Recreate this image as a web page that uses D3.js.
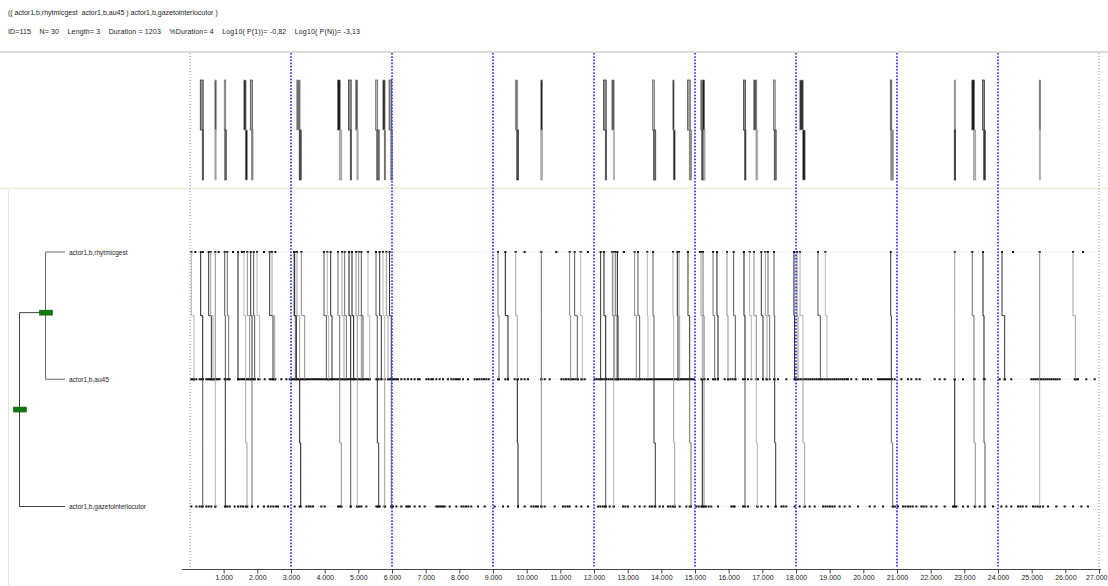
<!DOCTYPE html>
<html>
<head>
<meta charset="utf-8">
<script src="https://cdn.jsdelivr.net/npm/d3@7/dist/d3.min.js"></script>
<style>
  html, body { margin: 0; padding: 0; background: #fff; }
  svg { display: block; }
  text { font-family: "Liberation Sans", "DejaVu Sans", sans-serif; white-space: pre; }
</style>
</head>
<body>
<svg id="chart" width="1108" height="586"></svg>
<script>
// ---- pattern description ----
const patternTitle = "(( actor1,b,rhytmicgest  actor1,b,au45 ) actor1,b,gazetointerlocutor )";
const patternStats = "ID=115    N= 30    Length= 3    Duration = 1203    %Duration= 4    Log10( P(1))= -0,82    Log10( P(N))= -3,13";
const eventTypes = ["actor1,b,rhytmicgest", "actor1,b,au45", "actor1,b,gazetointerlocutor"];

// ---- complete occurrences: time of each of the three events ----
const occRhy  = [318, 751, 1031, 1604, 1803, 3178, 4396, 4723, 4931, 5525, 5733, 5926, 9674, 10435, 12297, 12544, 13753, 14346, 14792, 15178, 15238, 16455, 16752, 17347, 18118, 20813, 22714, 23236, 23554, 25238];
const occAu45 = [377, 751, 1049, 1654, 1842, 3258, 4447, 4773, 4969, 5563, 5783, 5979, 9722, 10435, 12348, 12585, 13782, 14367, 14843, 15217, 15268, 16485, 16821, 17367, 18207, 20831, 22714, 23287, 23584, 25238];
const occGaze = [377, 751, 1049, 1693, 1842, 3288, 4494, 4773, 4969, 5605, 5783, 5979, 9743, 10435, 12348, 12585, 13821, 14397, 14881, 15217, 15268, 16485, 16851, 17397, 18258, 20872, 22714, 23326, 23614, 25238];

// ---- further occurrences of the sub-pattern (rhytmicgest, au45) ----
const subRhy  = [40, 555, 614, 1109, 1426, 1703, 1891, 1990, 2366, 2436, 3089, 3109, 3307, 3980, 4079, 4178, 4515, 4594, 4812, 5010, 5089, 5287, 5634, 5832, 9148, 9366, 11277, 11425, 11603, 12197, 12564, 12633, 12693, 13207, 13306, 13583, 14475, 14525, 15535, 15653, 15950, 16148, 16624, 16970, 17089, 17168, 17940, 18029, 18653, 18871, 24119, 26228];
const subAu45 = [119, 634, 683, 1149, 1426, 1772, 1921, 2069, 2465, 2515, 3129, 3158, 3406, 4050, 4119, 4218, 4574, 4644, 4862, 5089, 5139, 5337, 5683, 5881, 9178, 9445, 11306, 11504, 11653, 12197, 12613, 12683, 12712, 13257, 13356, 13603, 14495, 14545, 15584, 15683, 15980, 16198, 16673, 17020, 17139, 17218, 17960, 18059, 18723, 18921, 24198, 26297];

// ---- single events of each type that are not part of a drawn link ----
const rhyOther = [159, 386, 852, 1277, 1545, 2198, 2535, 9940, 10881, 11821, 12890, 15150, 24446, 26525];
const au45Events = [40, 90, 119, 188, 287, 337, 386, 485, 535, 584, 634, 683, 733, 782, 832, 881, 1030, 1109, 1178, 1426, 1475, 1525, 1574, 1624, 1673, 1723, 1772, 1822, 1871, 1921, 2020, 2218, 2366, 2416, 2465, 2535, 2713, 2862, 2961,
  3030, 3089, 3149, 3208, 3268, 3327, 3387, 3446, 3505, 3565, 3624, 3683, 3743, 3802, 3861, 3921, 3980, 4040, 4099, 4158, 4218, 4277, 4337, 4396, 4456, 4515, 4574, 4634, 4693, 4753, 4812, 4871, 4931, 4990, 5050, 5109, 5168, 5228, 5287, 5337,
  5535, 5604, 5683, 5881, 5941, 6000, 6059, 6119, 6178, 6277, 6376, 6475, 6574, 6673, 6772,
  6822, 7020, 7089, 7168, 7218, 7317, 7416, 7515, 7663, 7762, 7831, 7901, 7960, 8010, 8109, 8257, 8455, 8524, 8594, 8663, 8732, 8802, 8871, 9148, 9366, 9445, 9643, 9742, 9841, 9940, 10039, 10435, 10534, 10683,
  11029, 11098, 11168, 11237, 11306, 11376, 11445, 11524, 11623, 11722, 12019, 12078, 12138, 12197, 12256, 12316, 12375, 12435, 12494, 12554, 12613, 12672, 12732, 12791, 12851, 12910, 12969, 13029, 13088, 13148, 13207, 13266, 13326, 13385, 13445, 13504, 13563,
  13604, 13663, 13723, 13782, 13842, 13901, 13960, 14020, 14079, 14139, 14198, 14257, 14317, 14376, 14436, 14495, 14554, 14614, 14673, 14733, 14792, 14851, 14911, 14970, 15188, 15287, 15386, 15535, 15604, 15683, 15881, 15980, 16049, 16119, 16198, 16426, 16574, 16871, 17020, 17119, 17346, 17465, 17713,
  17960, 18019, 18079, 18138, 18198, 18257, 18316, 18376, 18435, 18495, 18554, 18613, 18673, 18732, 18792, 18851, 18911, 18970, 19029, 19089, 19148, 19207, 19267, 19326, 19386, 19445, 19505, 19544, 19643, 19792, 19990, 20059, 20138, 20237,
  20436, 20495, 20555, 20614, 20674, 20733, 20792, 20852, 20931, 21129, 21327, 21426, 21575, 21674, 22119, 22268, 22416, 22713, 22961, 23307, 23604, 24050, 24198, 24396,
  24990, 25049, 25109, 25168, 25228, 25287, 25346, 25406, 25465, 25525, 25584, 25644, 25703, 25763, 25832, 26277, 26327, 26376, 26624, 26871];
const gazeEvents = [40, 188, 287, 357, 485, 555, 634, 753, 1050, 1109, 1178, 1327, 1426, 1505, 1574, 1654, 1703, 1842, 2020, 2198, 2317, 2396, 2475, 2555, 2614, 2812, 2911,
  3109, 3258, 3456, 3525, 3584, 3654, 3901, 4000, 4396, 4446, 4495, 4772, 4970, 5030, 5089, 5238, 5535, 5584, 5634, 5782, 5980, 6030, 6129, 6277, 6426, 6475, 6525, 6673,
  6822, 6970, 7317, 7366, 7416, 7465, 7515, 7564, 7713, 7911, 8059, 8128, 8198, 8267, 8356, 8554, 8752, 9049, 9297, 9445, 9742, 9940, 10138, 10207, 10277, 10336, 10435, 10534, 10831, 11079, 11148, 11218, 11277, 11475, 11623, 11821, 12118, 12187, 12257, 12316, 12346, 12465, 12583, 12861, 12930, 13009, 13207, 13356, 13504,
  13654, 13723, 13802, 13951, 14050, 14198, 14267, 14337, 14396, 14545, 14743, 14842, 15040, 15109, 15188, 15257, 15327, 15406, 15485, 15683, 16079, 16138, 16178, 16426, 16574, 16851, 16970, 17168, 17396, 17564, 17633, 17713, 17960, 18109, 18257, 18406, 18554, 18802, 18871, 18940, 19010, 19079, 19148, 19297, 19445, 19594, 19841, 20188, 20336,
  20585, 20882, 20951, 21030, 21179, 21248, 21327, 21396, 21466, 21575, 21723, 21792, 21871, 22020, 22169, 22416, 22664, 22713, 22763, 22961, 23109, 23307, 23456, 23604, 23852, 24099, 24248, 24396, 24594, 24663, 24733, 24842, 25040, 25109, 25178, 25248, 25337, 25485, 25733, 25980, 26228, 26475, 26673];

// ---- time axis ----
const timeDomain = [0, 27000];
const tickTimes = [1000, 2000, 3000, 4000, 5000, 6000, 7000, 8000, 9000, 10000, 11000, 12000, 13000, 14000, 15000, 16000, 17000, 18000, 19000, 20000, 21000, 22000, 23000, 24000, 25000, 26000, 27000];
const gridTimes = [0, 3000, 6000, 9000, 12000, 15000, 18000, 21000, 24000, 27000];

// ---- drawing ----
const svg = d3.select("#chart");
const W = 1108, H = 586;
const x = d3.scaleLinear().domain(timeDomain).range([190, 1099]);
const rowY = d3.scalePoint().domain(eventTypes).range([252, 506.5]);
const midY = (a, b) => (rowY(a) + rowY(b)) / 2;
const shades = ["#1a1a1a", "#8c8c8c", "#555555", "#b3b3b3", "#333333", "#a0a0a0", "#6e6e6e"];

// header
svg.append("text").attr("x", 8).attr("y", 15).attr("font-size", 7).attr("fill", "#222").text(patternTitle);
svg.append("text").attr("x", 8).attr("y", 34).attr("font-size", 7).attr("fill", "#222")
  .attr("textLength", 352).attr("lengthAdjust", "spacing").text(patternStats);

// panel frame lines
svg.append("line").attr("x1", 0).attr("x2", W).attr("y1", 52).attr("y2", 52).attr("stroke", "#cfcfcf").attr("stroke-width", 1.5);
svg.append("line").attr("x1", 0).attr("x2", W).attr("y1", 188.5).attr("y2", 188.5).attr("stroke", "#f3ece2").attr("stroke-width", 2);
svg.append("line").attr("x1", 8.5).attr("x2", 8.5).attr("y1", 190).attr("y2", H).attr("stroke", "#e6e6e6").attr("stroke-width", 1);

// row guide lines
const rows = svg.append("g");
rows.selectAll("line").data(eventTypes).join("line")
  .attr("x1", x(0)).attr("x2", x(27000))
  .attr("y1", d => rowY(d)).attr("y2", d => rowY(d))
  .attr("stroke", "#c8c8c8").attr("stroke-width", 1).attr("stroke-dasharray", "1,3");

// event dots
const rhyEvents = occRhy.concat(subRhy, rhyOther);
const au45All = au45Events.concat(occAu45, subAu45);
const gazeAll = gazeEvents.concat(occGaze);
const dotSets = [[eventTypes[0], rhyEvents], [eventTypes[1], au45All], [eventTypes[2], gazeAll]];
const dots = svg.append("g");
dotSets.forEach(([type, times]) => {
  dots.append("g").selectAll("rect").data(times).join("rect")
    .attr("x", d => x(d) - 1).attr("y", rowY(type) - 1)
    .attr("width", 2).attr("height", 2).attr("fill", "#111");
});

// links of the sub-pattern (rhytmicgest -> au45)
const subLinks = subRhy.map((r, i) => ({ r, a: subAu45[i] }));
const occ = occRhy.map((r, i) => ({ r, a: occAu45[i], g: occGaze[i] }));
const yR = rowY(eventTypes[0]), yA = rowY(eventTypes[1]), yG = rowY(eventTypes[2]);
const yStep1 = midY(eventTypes[0], eventTypes[1]);
const yStep2 = midY(eventTypes[1], eventTypes[2]);

const links = svg.append("g").attr("fill", "none");
links.selectAll("path.sub").data(subLinks).join("path").attr("class", "sub")
  .attr("d", d => `M${x(d.r)},${yR}V${yStep1}H${x(d.a)}V${yA}`)
  .attr("stroke", (d, i) => shades[(i + 3) % shades.length]).attr("stroke-width", 1);
links.selectAll("path.up").data(occ).join("path").attr("class", "up")
  .attr("d", d => `M${x(d.r)},${yR}V${yStep1}H${x(d.a)}V${yA}`)
  .attr("stroke", (d, i) => shades[i % shades.length]).attr("stroke-width", 1);
links.selectAll("path.down").data(occ).join("path").attr("class", "down")
  .attr("d", d => `M${x(d.a)},${yA}V${yStep2}H${x(d.g)}V${yG}`)
  .attr("stroke", (d, i) => shades[(i + 2) % shades.length]).attr("stroke-width", 1);

// occurrence overview bars in the top panel
const bars = svg.append("g");
occ.forEach((d, i) => {
  const x0 = Math.min(x(d.r), x(d.a)) - 0.5, x1 = Math.max(x(d.r), x(d.a)) + 0.5;
  const x2 = Math.min(x(d.a), x(d.g)) - 0.5, x3 = Math.max(x(d.a), x(d.g)) + 0.5;
  bars.append("rect").attr("x", x0).attr("y", 80).attr("width", Math.max(1.5, x1 - x0)).attr("height", 50)
    .attr("fill", shades[(i + 1) % shades.length]).attr("stroke", shades[i % shades.length]).attr("stroke-width", 0.6);
  bars.append("rect").attr("x", x2).attr("y", 130).attr("width", Math.max(1.5, x3 - x2)).attr("height", 50)
    .attr("fill", shades[(i + 4) % shades.length]).attr("stroke", shades[(i + 2) % shades.length]).attr("stroke-width", 0.6);
});

// blue time grid
const isEdge = d => d === timeDomain[0] || d === timeDomain[1];
svg.append("g").selectAll("line").data(gridTimes).join("line")
  .attr("x1", d => x(d)).attr("x2", d => x(d))
  .attr("y1", 53).attr("y2", 567)
  .attr("stroke", "#3b3bff")
  .attr("stroke-width", d => isEdge(d) ? 1 : 2)
  .attr("stroke-dasharray", d => isEdge(d) ? "1,2" : "1.6,1.6")
  .attr("opacity", d => isEdge(d) ? 0.6 : 0.9);

// time axis
const dotted = d3.formatLocale({ decimal: ",", thousands: ".", grouping: [3], currency: ["", ""] }).format(",");
const axis = d3.axisBottom(x).tickValues(tickTimes).tickFormat(dotted).tickSize(4).tickSizeOuter(0);
const gAxis = svg.append("g").attr("transform", "translate(0,569.5)").call(axis);
gAxis.select(".domain").attr("stroke", "#444").attr("d", `M182,0H${x(27000) + 2}`);
gAxis.selectAll(".tick line").attr("stroke", "#444");
gAxis.selectAll(".tick text").attr("font-family", "'Liberation Serif', serif").attr("font-size", 7).attr("fill", "#222").attr("dy", "0.5em");
// keep the last label inside the window
gAxis.selectAll(".tick text").filter(d => d === timeDomain[1]).attr("text-anchor", "end").attr("x", 8);

// dendrogram of the pattern
const tree = svg.append("g").attr("fill", "none").attr("stroke", "#6a6a6a").attr("stroke-width", 1);
const xOuter = 19.5, xInner = 45.5, xLeaf = 65;
const yInner = yStep1 - 3;
tree.append("path").attr("d", `M${xLeaf},${yR}H${xInner}V${yA}H${xLeaf}`);
tree.append("path").attr("d", `M${xInner},${yInner}H${xOuter}V${yG}H${xLeaf}`).attr("stroke", "#444");
svg.append("rect").attr("x", xInner - 6).attr("y", yInner - 2.5).attr("width", 13).attr("height", 5)
  .attr("fill", "#0a7a0a").attr("stroke", "#245c24").attr("stroke-width", 0.6);
svg.append("rect").attr("x", xOuter - 6).attr("y", (yInner + yG) / 2 - 2.5).attr("width", 13).attr("height", 5)
  .attr("fill", "#0a7a0a").attr("stroke", "#245c24").attr("stroke-width", 0.6);
svg.append("g").selectAll("text").data(eventTypes).join("text")
  .attr("x", 69).attr("y", d => rowY(d) + 2.5)
  .attr("font-size", 6.5).attr("fill", "#222").text(d => d);
</script>
</body>
</html>
